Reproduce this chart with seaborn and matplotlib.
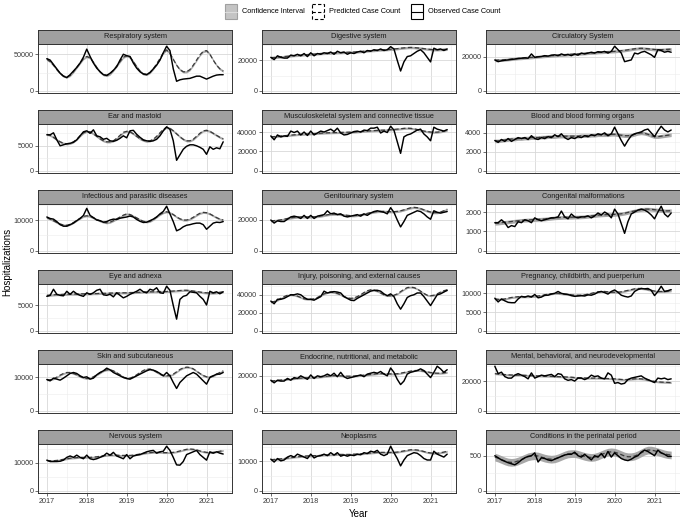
import numpy as np
import pandas as pd
import matplotlib
matplotlib.use("Agg")
import matplotlib.pyplot as plt
import seaborn as sns
from matplotlib.patches import Rectangle
from matplotlib.lines import Line2D

sns.set_theme(style="white")
plt.rcParams['font.family'] = ['Liberation Sans', 'DejaVu Sans']

# ---------------- data ----------------
months = pd.date_range("2017-01-01", periods=54, freq="MS")

categories = [
    "Respiratory system", "Digestive system", "Circulatory System",
    "Ear and mastoid", "Musculoskeletal system and connective tissue", "Blood and blood forming organs",
    "Infectious and parasitic diseases", "Genitourinary system", "Congenital malformations",
    "Eye and adnexa", "Injury, poisoning, and external causes", "Pregnancy, childbirth, and puerperium",
    "Skin and subcutaneous", "Endocrine, nutritional, and metabolic", "Mental, behavioral, and neurodevelopmental",
    "Nervous system", "Neoplasms", "Conditions in the perinatal period",
]

obs_respiratory = [44000, 42000, 36000, 30000, 24000, 20000, 18000, 22000, 27000, 32000, 38000, 46000,
                   57000, 47000, 38000, 31000, 26000, 22000, 21000, 24000, 28000, 33000, 42000, 50000,
                   48000, 47000, 38000, 31000, 26000, 23000, 22000, 25000, 30000, 35000, 42000, 52000,
                   61000, 55000, 30000, 13000, 15000, 16000, 16500, 17000, 18500, 20000, 20000, 18000,
                   16000, 18000, 20000, 21500, 22000, 22000]
pred_respiratory = [43000, 40000, 35000, 29000, 24000, 20000, 19000, 21000, 26000, 32000, 38000, 44000,
                    47000, 45000, 39000, 32000, 26000, 22000, 21000, 23000, 28000, 34000, 40000, 46000,
                    48000, 46000, 40000, 33000, 27000, 23000, 22500, 25000, 30000, 37000, 44000, 52000,
                    56000, 51000, 43000, 35000, 29000, 26000, 26000, 29000, 35000, 42000, 49000, 54000,
                    55000, 50000, 42000, 35000, 30000, 27000]

obs_digestive = [22000, 20500, 23000, 22000, 21500, 21500, 23500, 23000, 24000, 23000, 24500, 22500,
                 25000, 23000, 24500, 24000, 25000, 24500, 25500, 24000, 26000, 25000, 25500, 24000,
                 25000, 24500, 25500, 26000, 25000, 26500, 26000, 27000, 26500, 27500, 26500, 27000,
                 29000, 27500, 20000, 13000, 19000, 22500, 23000, 24500, 26000, 27000, 25000, 22000,
                 19000, 28000, 27000, 27500, 26500, 27500]
pred_digestive = [21800, 21900, 22100, 22300, 22500, 22700, 23000, 23200, 23300, 23500, 23700, 23800,
                  24000, 24100, 24300, 24500, 24600, 24700, 24800, 24900, 25000, 25100, 25200, 25300,
                  25400, 25500, 25600, 25800, 26000, 26200, 26400, 26500, 26700, 26900, 27000, 27100,
                  27300, 27500, 27700, 28000, 28200, 28400, 28500, 28400, 28200, 28000, 27700, 27400,
                  27200, 27000, 27000, 27100, 27200, 27300]

obs_circulatory = [18000, 17000, 17500, 17800, 18000, 18300, 18500, 18800, 19000, 19200, 19000, 21500,
                   19500, 19800, 20000, 20500, 20200, 20800, 21000, 20500, 21500, 20800, 21200, 20500,
                   21500, 20800, 22000, 21500, 22000, 22500, 22000, 22800, 22500, 23000, 22000, 23000,
                   26000, 24000, 22000, 17000, 17500, 18000, 22000, 21500, 22500, 23000, 22000, 21000,
                   19500, 24000, 23500, 22500, 23000, 22500]
pred_circulatory = [17800, 17900, 18000, 18100, 18300, 18500, 18700, 18900, 19000, 19200, 19400, 19500,
                    19700, 19900, 20000, 20200, 20300, 20500, 20600, 20800, 20900, 21000, 21200, 21300,
                    21400, 21500, 21700, 21800, 22000, 22100, 22200, 22400, 22500, 22600, 22800, 22900,
                    23000, 23200, 23400, 23600, 23900, 24200, 24500, 24700, 24800, 24700, 24500, 24300,
                    24100, 24000, 24000, 24100, 24200, 24300]

obs_ear = [7200, 7200, 7600, 6200, 5000, 5200, 5400, 5500, 5700, 6200, 7000, 7800,
           8000, 7500, 8200, 7000, 6800, 6300, 6500, 6000, 5900, 6100, 6500, 7000,
           6600, 8000, 8100, 7300, 6700, 6200, 6000, 5900, 6000, 6300, 7000, 8000,
           8800, 8300, 6000, 2100, 3200, 4300, 4900, 5200, 5200, 5000, 4700, 4300,
           3300, 4800, 4300, 4600, 4400, 5800]
pred_ear = [7300, 7100, 6700, 6200, 5800, 5500, 5400, 5500, 5800, 6300, 7000, 7600,
            7900, 7800, 7400, 6900, 6400, 6000, 5800, 5800, 6000, 6500, 7100, 7700,
            7900, 7800, 7400, 6900, 6400, 6100, 5900, 6000, 6300, 6900, 7600, 8300,
            8700, 8500, 8000, 7400, 6800, 6300, 6000, 6000, 6300, 6900, 7500, 8000,
            8100, 7900, 7500, 7100, 6700, 6400]

obs_musculo = [36000, 32000, 37000, 35000, 36000, 35500, 41000, 39500, 41000, 37000, 40000, 36500,
               41000, 37000, 39000, 41000, 40000, 41500, 43000, 40500, 44000, 39000, 37000, 37500,
               39000, 40500, 41000, 40000, 42000, 41500, 44000, 44000, 45000, 39000, 41000, 39500,
               46000, 42000, 30000, 18000, 35000, 37000, 38000, 40000, 42000, 43000, 38000, 35000,
               31000, 45000, 43000, 42000, 41000, 42500]
pred_musculo = [35000, 35300, 35600, 35900, 36200, 36500, 36800, 37100, 37400, 37600, 37800, 38000,
                38200, 38400, 38600, 38800, 39000, 39200, 39300, 39400, 39500, 39600, 39700, 39800,
                39900, 40000, 40200, 40500, 40800, 41100, 41300, 41500, 41700, 41900, 42000, 42200,
                42400, 42700, 43000, 43400, 43800, 44000, 43800, 43300, 42600, 41800, 41000, 40400,
                40000, 39800, 39900, 40300, 41000, 42000]

obs_blood = [3200, 3000, 3300, 3100, 3400, 3100, 3300, 3500, 3400, 3500, 3300, 3700,
             3400, 3300, 3500, 3400, 3600, 3500, 3800, 3600, 3900, 3500, 3300, 3500,
             3400, 3600, 3500, 3700, 3600, 3800, 3700, 3900, 3800, 4000, 3700, 3900,
             4600, 3900, 3200, 2600, 3200, 3700, 3900, 4000, 4100, 4300, 4400, 4000,
             3600, 4200, 4700, 4300, 4100, 4300]
pred_blood = [3150, 3150, 3200, 3250, 3300, 3350, 3350, 3400, 3400, 3450, 3450, 3500,
              3500, 3500, 3550, 3550, 3600, 3600, 3600, 3650, 3650, 3650, 3650, 3650,
              3650, 3650, 3700, 3700, 3700, 3750, 3750, 3800, 3800, 3800, 3800, 3850,
              3850, 3800, 3750, 3700, 3700, 3750, 3850, 3950, 4000, 3950, 3850, 3700,
              3600, 3600, 3650, 3700, 3750, 3800]

obs_infectious = [11000, 10500, 10300, 9500, 8500, 8000, 8000, 8500, 9000, 9800, 10500, 11500,
                  13800, 11500, 10800, 10000, 9800, 9300, 9500, 10000, 10300, 10200, 10600, 10800,
                  11000, 11300, 11000, 10200, 9600, 9200, 9300, 9800, 10300, 11000, 12000, 12800,
                  14500, 12000, 9500, 6500, 7000, 7800, 8300, 8500, 8800, 9000, 9000, 8500,
                  7000, 8000, 9000, 9300, 9200, 9500]
pred_infectious = [10800, 10300, 9800, 9200, 8700, 8400, 8300, 8600, 9200, 9900, 10600, 11200,
                   11400, 11200, 10700, 10200, 9700, 9300, 9100, 9300, 9800, 10400, 11000, 11600,
                   12000, 11800, 11300, 10700, 10100, 9600, 9400, 9600, 10200, 11000, 11800, 12400,
                   12700, 12400, 11800, 11000, 10400, 10000, 10000, 10300, 10900, 11600, 12200, 12500,
                   12400, 12000, 11400, 10800, 10300, 10000]

obs_genito = [20000, 18000, 19500, 19000, 19000, 20500, 22000, 22500, 22000, 21000, 23000, 21000,
              23000, 21000, 22500, 23000, 23500, 26000, 24000, 24500, 23500, 24000, 22500, 22000,
              22500, 23000, 23500, 22500, 24000, 23000, 24500, 25500, 26000, 25500, 25000, 24000,
              28000, 25000, 20000, 15500, 19000, 23000, 24000, 25000, 26000, 25500, 24000, 22000,
              20500, 26000, 25000, 24500, 25000, 25500]
pred_genito = [19500, 19600, 19800, 20100, 20500, 21000, 21400, 21700, 21900, 22000, 22000, 22000,
               22000, 22100, 22300, 22600, 23000, 23400, 23700, 23800, 23800, 23600, 23300, 23000,
               22800, 22800, 23000, 23400, 23800, 24300, 24800, 25200, 25500, 25600, 25600, 25500,
               25400, 25400, 25600, 26000, 26600, 27300, 27900, 28200, 28000, 27400, 26600, 25800,
               25200, 24800, 24800, 25200, 26000, 27000]

obs_congenital = [1450, 1450, 1600, 1450, 1200, 1300, 1250, 1500, 1450, 1600, 1550, 1450,
                  1700, 1600, 1550, 1600, 1650, 1700, 1700, 1750, 2050, 1750, 1650, 1900,
                  1750, 1700, 1750, 1750, 1800, 1700, 1800, 1950, 1850, 2000, 1900, 1700,
                  2150, 1900, 1400, 900, 1500, 1900, 2000, 2100, 2150, 2100, 2000, 1850,
                  1650, 2000, 2300, 1900, 1750, 1950]
pred_congenital = [1420, 1430, 1450, 1470, 1490, 1510, 1530, 1550, 1570, 1580, 1590, 1600,
                   1610, 1620, 1630, 1640, 1660, 1680, 1700, 1710, 1720, 1730, 1730, 1730,
                   1740, 1740, 1750, 1760, 1780, 1800, 1820, 1840, 1850, 1860, 1870, 1870,
                   1880, 1890, 1910, 1940, 1980, 2020, 2060, 2100, 2130, 2150, 2150, 2140,
                   2120, 2100, 2080, 2060, 2060, 2070]

obs_eye = [6800, 7000, 8200, 7200, 7000, 6900, 7800, 7200, 7800, 7300, 7000, 6800,
           7500, 7200, 7500, 8000, 8200, 7100, 7000, 7200, 6700, 7500, 7000, 6500,
           6800, 7200, 7500, 7800, 8200, 7700, 7500, 8200, 8000, 8500, 7500, 7400,
           8800, 8000, 5000, 2300, 6200, 6800, 7000, 7700, 7600, 7500, 6800, 6200,
           5100, 7800, 7500, 7700, 7300, 7700]
pred_eye = [7000, 7050, 7100, 7150, 7150, 7200, 7200, 7250, 7250, 7250, 7300, 7300,
            7300, 7300, 7350, 7350, 7400, 7400, 7400, 7450, 7450, 7450, 7500, 7500,
            7500, 7550, 7550, 7600, 7600, 7650, 7650, 7700, 7700, 7700, 7750, 7750,
            7750, 7800, 7850, 7900, 7950, 8000, 8000, 7950, 7850, 7750, 7650, 7550,
            7500, 7450, 7450, 7500, 7600, 7700]

obs_injury = [33000, 30000, 35000, 35000, 36000, 38000, 40000, 40000, 41000, 40000, 37000, 35000,
              35000, 34000, 36000, 38000, 44000, 42000, 43000, 43500, 43000, 42000, 38000, 36000,
              34000, 33500, 36000, 38000, 40000, 42000, 44000, 45000, 45000, 44000, 41000, 39000,
              41000, 38000, 30000, 24000, 30000, 37000, 39000, 40000, 42000, 42000, 38000, 33000,
              28000, 34000, 40000, 41000, 43000, 45000]
pred_injury = [32000, 32500, 34000, 36000, 38000, 39500, 40000, 39500, 38500, 37000, 35500, 35000,
               35000, 35500, 37000, 39000, 41000, 42500, 43000, 42500, 41500, 40000, 38000, 36500,
               36000, 36500, 38000, 40000, 42500, 44500, 45500, 45000, 44000, 42000, 40000, 39000,
               39000, 39500, 41000, 43500, 46000, 48000, 48500, 48000, 46500, 44000, 41500, 39500,
               39000, 39500, 41000, 43000, 44500, 45500]

obs_pregnancy = [8700, 7700, 8500, 8000, 7600, 7500, 7500, 8500, 9200, 9000, 9300, 9000,
                 9700, 8800, 9000, 9500, 9500, 9800, 10000, 10500, 10000, 9800, 9700, 9400,
                 9200, 9300, 9400, 9300, 9600, 9500, 9800, 10300, 10500, 10200, 9800, 10500,
                 10900, 10300, 9500, 9200, 9000, 9300, 10500, 11000, 11300, 11200, 11300, 10800,
                 9400, 10500, 11900, 10500, 10700, 11000]
pred_pregnancy = [8500, 8400, 8400, 8500, 8700, 8900, 9000, 9100, 9100, 9100, 9100, 9200,
                  9200, 9300, 9400, 9600, 9800, 9900, 10000, 10000, 9900, 9800, 9700, 9600,
                  9500, 9500, 9500, 9600, 9800, 10000, 10200, 10400, 10500, 10500, 10400, 10300,
                  10300, 10300, 10400, 10600, 10800, 11000, 11200, 11300, 11300, 11200, 11000, 10800,
                  10600, 10500, 10500, 10500, 10600, 10700]

obs_skin = [9400, 9000, 9800, 9500, 9200, 9800, 10500, 11200, 11500, 11200, 10500, 10000,
            10200, 9500, 9800, 10800, 11500, 12000, 12800, 12300, 11500, 11000, 10500, 10000,
            9700, 9500, 10000, 10500, 11000, 11500, 12000, 12400, 12200, 11800, 11200, 10500,
            11500, 10500, 8500, 6700, 8500, 9500, 10500, 11000, 11500, 11000, 10000, 9000,
            8000, 10000, 10500, 11000, 11000, 11500]
pred_skin = [9300, 9300, 9600, 10100, 10700, 11200, 11500, 11500, 11200, 10800, 10300, 9900,
             9700, 9800, 10200, 10800, 11400, 12000, 12300, 12300, 12000, 11400, 10800, 10100,
             9800, 9800, 10200, 10800, 11500, 12100, 12500, 12500, 12200, 11600, 11000, 10600,
             10500, 10600, 11000, 11700, 12400, 12900, 13100, 13000, 12600, 11900, 11200, 10600,
             10200, 10200, 10500, 11000, 11500, 12000]

obs_endocrine = [17500, 16000, 17500, 17000, 17000, 18500, 17500, 19000, 18500, 20000, 19000, 18000,
                 20500, 18500, 20000, 19500, 20000, 21000, 20000, 21500, 19500, 22000, 19500, 18500,
                 19000, 19500, 20000, 20500, 19500, 21000, 21500, 22000, 21500, 22500, 21000, 20000,
                 24500, 22000, 18000, 15000, 17000, 21000, 22000, 22500, 23000, 24000, 23000, 21000,
                 19000, 22000, 25500, 24000, 22000, 23500]
pred_endocrine = [17000, 17200, 17400, 17600, 17800, 18000, 18200, 18400, 18600, 18700, 18800, 18900,
                  19000, 19100, 19200, 19400, 19600, 19800, 20000, 20100, 20100, 20000, 19900, 19800,
                  19800, 19900, 20000, 20200, 20400, 20600, 20800, 21000, 21200, 21300, 21300, 21200,
                  21100, 21100, 21200, 21500, 21900, 22300, 22700, 23000, 23100, 23000, 22700, 22300,
                  21900, 21600, 21500, 21500, 21700, 22000]

obs_mental = [30000, 25000, 26000, 23000, 22000, 22000, 24000, 25000, 24000, 23000, 21500, 25500,
              22000, 23000, 24000, 23500, 24000, 24500, 23000, 25000, 24500, 21500, 20500, 21000,
              20000, 22000, 22000, 21000, 22000, 24000, 23000, 23500, 22000, 21500, 25500, 24000,
              18500, 19000, 18000, 18500, 21000, 22000, 22500, 23000, 23500, 22000, 21000, 20000,
              19000, 22000, 21500, 22000, 21000, 21500]
pred_mental = [25000, 24800, 24600, 24400, 24200, 24100, 24000, 24000, 24000, 23900, 23800, 23700,
               23600, 23500, 23400, 23300, 23300, 23200, 23100, 23000, 22900, 22800, 22700, 22600,
               22400, 22300, 22200, 22100, 22000, 22000, 22000, 22000, 21900, 21800, 21700, 21600,
               21500, 21300, 21100, 21000, 21100, 21300, 21500, 21600, 21500, 21200, 20700, 20200,
               19800, 19500, 19300, 19200, 19100, 19000]

obs_nervous = [11000, 10500, 10500, 10500, 10600, 11000, 12000, 12500, 12000, 12800, 12000, 11500,
               12800, 11500, 11200, 11500, 12000, 12500, 13500, 12800, 13800, 12500, 12000, 11500,
               13000, 11500, 12500, 12800, 13000, 13500, 14000, 14300, 14500, 13500, 14000, 14200,
               16000, 14500, 12000, 9300, 9200, 10500, 13000, 13500, 14000, 14500, 13000, 12000,
               11000, 14000, 13500, 14000, 13500, 13200]
pred_nervous = [10900, 10800, 10800, 10900, 11100, 11300, 11500, 11700, 11800, 11900, 12000, 12000,
                12000, 12000, 12100, 12200, 12400, 12600, 12700, 12800, 12800, 12800, 12700, 12700,
                12700, 12700, 12800, 13000, 13200, 13400, 13600, 13700, 13800, 13800, 13800, 13700,
                13700, 13700, 13800, 14000, 14300, 14600, 14900, 15000, 14900, 14700, 14300, 14000,
                13800, 13700, 13800, 14000, 14200, 14500]

obs_neoplasms = [10800, 9800, 11000, 10200, 10500, 11500, 12000, 11500, 12500, 12000, 11500, 11000,
                 12500, 11200, 11800, 12000, 12500, 12000, 13000, 12200, 13000, 11800, 12200, 11800,
                 12200, 12000, 12500, 12300, 13000, 12700, 13500, 13200, 13800, 12500, 12000, 12500,
                 15200, 13000, 11000, 8500, 10500, 12000, 12500, 13000, 12800, 12000, 11000, 10500,
                 10500, 13500, 12500, 12000, 11500, 12500]
pred_neoplasms = [10600, 10700, 10800, 10900, 11000, 11200, 11300, 11500, 11600, 11700, 11800, 11900,
                  11900, 12000, 12000, 12100, 12200, 12200, 12300, 12300, 12400, 12400, 12400, 12400,
                  12400, 12500, 12500, 12600, 12700, 12800, 12900, 13000, 13100, 13100, 13100, 13100,
                  13100, 13100, 13200, 13400, 13600, 13800, 14000, 14000, 13900, 13700, 13400, 13100,
                  12900, 12800, 12800, 13000, 13200, 13500]

obs_perinatal = [500, 470, 440, 420, 400, 385, 370, 400, 440, 470, 490, 500,
                 540, 410, 470, 460, 440, 430, 450, 470, 490, 510, 520, 520,
                 550, 500, 480, 520, 480, 440, 500, 480, 530, 470, 560, 480,
                 540, 500, 460, 440, 430, 450, 480, 500, 550, 580, 560, 530,
                 500, 580, 540, 520, 490, 490]
pred_perinatal = [480, 465, 445, 425, 410, 405, 410, 425, 445, 465, 485, 495,
                  500, 495, 480, 465, 455, 450, 455, 470, 490, 510, 525, 530,
                  530, 520, 505, 490, 480, 475, 480, 495, 515, 535, 550, 555,
                  550, 535, 515, 495, 485, 485, 495, 515, 540, 565, 580, 580,
                  570, 555, 540, 525, 515, 510]

ci_halfwidth = [1600, 800, 850, 220, 1100, 190, 330, 750, 95,
                220, 1000, 280, 280, 550, 650, 330, 330, 55]

y_breaks = [[0, 50000], [0, 20000], [0, 20000],
            [0, 5000], [0, 20000, 40000], [0, 2000, 4000],
            [0, 10000], [0, 20000], [0, 1000, 2000],
            [0, 5000], [0, 20000, 40000], [0, 5000, 10000],
            [0, 10000], [0, 20000], [0, 20000],
            [0, 10000], [0, 10000], [0, 500]]

x_breaks = [2017, 2018, 2019, 2020, 2021]

observed = [obs_respiratory, obs_digestive, obs_circulatory, obs_ear, obs_musculo, obs_blood,
            obs_infectious, obs_genito, obs_congenital, obs_eye, obs_injury, obs_pregnancy,
            obs_skin, obs_endocrine, obs_mental, obs_nervous, obs_neoplasms, obs_perinatal]
predicted = [pred_respiratory, pred_digestive, pred_circulatory, pred_ear, pred_musculo, pred_blood,
             pred_infectious, pred_genito, pred_congenital, pred_eye, pred_injury, pred_pregnancy,
             pred_skin, pred_endocrine, pred_mental, pred_nervous, pred_neoplasms, pred_perinatal]

# ---------------- layout ----------------
W, H = 680, 522
fig = plt.figure(figsize=(W / 100, H / 100), dpi=100)


def px(left, top, w, h):
    return [left / W, 1 - (top + h) / H, w / W, h / H]


col_left = [38, 262, 486]
col_w = 194
row_top0, row_step = 30, 80
strip_h, plot_h = 14, 49

year_dec = months.year + (months.month - 1) / 12.0
xmin, xmax = year_dec.min(), year_dec.max()
xpad = 0.05 * (xmax - xmin)

STRIP = '#a0a0a0'
BAND = '#a8a8a8'
EDGE = '#333333'
TXT = '#3a3a3a'

for i, cat in enumerate(categories):
    r, c = divmod(i, 3)
    top = row_top0 + r * row_step
    ax = fig.add_axes(px(col_left[c], top + strip_h, col_w, plot_h))
    sax = fig.add_axes(px(col_left[c], top, col_w, strip_h))

    df = pd.DataFrame({"x": year_dec, "obs": observed[i], "pred": predicted[i]})
    lo = df["pred"] - ci_halfwidth[i]
    hi = df["pred"] + ci_halfwidth[i]

    ax.fill_between(df["x"], lo, hi, color=BAND, lw=0, zorder=2)
    sns.lineplot(data=df, x="x", y="pred", ax=ax, color='#3a3a3a', lw=0.9,
                 linestyle=(0, (3.5, 2.0)), zorder=3)
    sns.lineplot(data=df, x="x", y="obs", ax=ax, color='black', lw=1.05, zorder=4)

    ymax = max(df["obs"].max(), hi.max())
    ax.set_ylim(-0.05 * ymax, 1.05 * ymax)
    ax.set_xlim(xmin - xpad, xmax + xpad)

    yb = y_breaks[i]
    step = yb[1] - yb[0]
    minors = [b + step / 2 for b in yb]
    ax.set_yticks(yb)
    ax.set_yticks([m for m in minors if m < 1.05 * ymax], minor=True)
    ax.set_xticks(x_breaks)
    ax.set_xticks([b + 0.5 for b in x_breaks], minor=True)
    ax.grid(which='major', color='#d8d8d8', lw=0.6, zorder=0)
    ax.grid(which='minor', color='#ececec', lw=0.4, zorder=0)
    ax.set_axisbelow(True)

    ax.set_xlabel("")
    ax.set_ylabel("")
    ax.tick_params(axis='y', which='major', length=2.2, width=0.5, color=EDGE,
                   labelsize=5.2, labelcolor=TXT, pad=1.2, left=True)
    ax.tick_params(axis='y', which='minor', length=0)
    ax.tick_params(axis='x', which='minor', length=0)
    if r == 5:
        ax.tick_params(axis='x', which='major', length=2.2, width=0.5, color=EDGE,
                       labelsize=5.2, labelcolor=TXT, pad=1.2, bottom=True)
        ax.set_xticklabels([str(b) for b in x_breaks])
    else:
        ax.tick_params(axis='x', which='major', length=0, labelbottom=False)
    ax.set_yticklabels([str(int(b)) for b in yb])
    for s in ax.spines.values():
        s.set_color(EDGE)
        s.set_linewidth(0.7)

    sax.set_facecolor(STRIP)
    sax.set_xticks([])
    sax.set_yticks([])
    for s in sax.spines.values():
        s.set_color(EDGE)
        s.set_linewidth(0.7)
    sax.text(0.5, 0.42, cat, ha='center', va='baseline', fontsize=5.3,
             color='#1a1a1a', transform=sax.transAxes)

# axis titles
fig.text(7 / W, 1 - 262 / H, "Hospitalizations", rotation=90, ha='center',
         va='center', fontsize=7, color='black')
fig.text(359 / W, 1 - 514 / H, "Year", ha='center', va='center', fontsize=7,
         color='black')

# legend (drawn in pixel coordinates)
lax = fig.add_axes([0, 0, 1, 1], zorder=10)
lax.set_xlim(0, W)
lax.set_ylim(H, 0)
lax.axis('off')
key_w, key_h, key_top = 12, 15, 4
legend_items = [("Confidence Interval", 225), ("Predicted Case Count", 312), ("Observed Case Count", 411)]
for j, (lab, kx) in enumerate(legend_items):
    ym = key_top + key_h / 2
    if j == 0:
        lax.add_patch(Rectangle((kx, key_top), key_w, key_h, facecolor='#c4c4c4',
                                edgecolor='#a0a0a0', lw=0.8))
        lax.add_line(Line2D([kx, kx + key_w], [ym, ym], color='#dcdcdc', lw=0.8))
    elif j == 1:
        lax.add_patch(Rectangle((kx, key_top), key_w, key_h, facecolor='white',
                                edgecolor='black', lw=0.8, linestyle=(0, (3, 2))))
        lax.add_line(Line2D([kx, kx + key_w], [ym, ym], color='black', lw=0.8,
                            linestyle=(0, (3, 2))))
    else:
        lax.add_patch(Rectangle((kx, key_top), key_w, key_h, facecolor='white',
                                edgecolor='black', lw=0.8))
        lax.add_line(Line2D([kx, kx + key_w], [ym, ym], color='black', lw=0.8))
    lax.text(kx + key_w + 5, ym, lab, ha='left', va='center', fontsize=5.3, color='black')

fig.savefig("out.png", dpi=100, facecolor='white')
